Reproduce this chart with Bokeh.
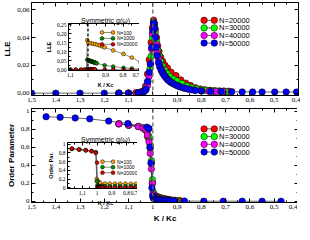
from bokeh.plotting import figure
from bokeh.layouts import column
from bokeh.models import (Range1d, FixedTicker, LinearAxis, Span, CustomJSTickFormatter)
from bokeh.core.properties import value
from bokeh.embed import file_html
from bokeh.resources import INLINE

# ---------------- data ----------------
series_labels = ["N=20000", "N=30000", "N=40000", "N=50000"]
series_colors = ["#ff0000", "#00ff00", "#ff00ff", "#0000ff"]

lle_x_20000 = [1.14, 1.10, 1.07, 1.05, 1.04, 1.03, 1.022, 1.015, 1.007, 1.002, 0.997, 0.993, 0.99, 0.985, 0.98, 0.975, 0.968, 0.96, 0.95, 0.94, 0.925, 0.905, 0.885, 0.865, 0.845, 0.825, 0.805, 0.786, 0.766, 0.747, 0.727, 0.708, 0.688]
lle_y_20000 = [0.0, 0.0, 0.0003, 0.0008, 0.0016, 0.005, 0.0137, 0.024, 0.0365, 0.047, 0.0525, 0.05, 0.046, 0.04, 0.034, 0.03, 0.026, 0.023, 0.02, 0.018, 0.015, 0.0126, 0.0095, 0.0072, 0.0055, 0.0039, 0.003, 0.0024, 0.002, 0.0018, 0.0016, 0.0015, 0.0014]
lle_x_30000 = [1.14, 1.10, 1.06, 1.04, 1.03, 1.02, 1.012, 1.007, 1.002, 0.997, 0.993, 0.99, 0.985, 0.98, 0.975, 0.968, 0.96, 0.95, 0.94, 0.93, 0.915, 0.90, 0.88, 0.86, 0.84, 0.82, 0.80, 0.78, 0.76, 0.74, 0.72, 0.70]
lle_y_30000 = [0.0, 0.0, 0.0003, 0.001, 0.003, 0.0085, 0.0175, 0.0265, 0.04, 0.051, 0.048, 0.044, 0.037, 0.031, 0.027, 0.023, 0.0195, 0.0165, 0.014, 0.012, 0.0102, 0.0088, 0.007, 0.0052, 0.004, 0.003, 0.0024, 0.002, 0.0017, 0.0015, 0.0013, 0.0012]
lle_x_40000 = [1.14, 1.10, 1.06, 1.04, 1.03, 1.022, 1.016, 1.011, 1.006, 1.002, 0.997, 0.993, 0.99, 0.986, 0.982, 0.977, 0.972, 0.966, 0.96, 0.953, 0.945, 0.937, 0.928, 0.918, 0.905, 0.89, 0.87, 0.85, 0.83, 0.80, 0.77, 0.74, 0.71]
lle_y_40000 = [0.0, 0.0, 0.0002, 0.0008, 0.0022, 0.0055, 0.012, 0.021, 0.032, 0.043, 0.0495, 0.046, 0.041, 0.035, 0.029, 0.025, 0.021, 0.018, 0.0155, 0.0132, 0.0112, 0.0096, 0.0082, 0.007, 0.0058, 0.0047, 0.0036, 0.0028, 0.0022, 0.0017, 0.0014, 0.0012, 0.0011]
lle_x_50000 = [1.5, 1.4, 1.3, 1.2, 1.14, 1.1, 1.06, 1.047, 1.036, 1.028, 1.022, 1.015, 1.009, 1.004, 1.0, 0.997, 0.994, 0.99, 0.986, 0.982, 0.977, 0.972, 0.966, 0.96, 0.954, 0.947, 0.94, 0.932, 0.924, 0.915, 0.905, 0.895, 0.883, 0.871, 0.857, 0.842, 0.825, 0.80, 0.762, 0.719, 0.675, 0.632, 0.589, 0.55, 0.498, 0.451, 0.408]
lle_y_50000 = [0, 0, 0, 0, 0, 0, 0.0003, 0.0006, 0.0011, 0.0028, 0.0083, 0.015, 0.021, 0.033, 0.045, 0.0505, 0.047, 0.04, 0.033, 0.027, 0.022, 0.019, 0.0165, 0.0145, 0.0128, 0.0112, 0.0098, 0.0086, 0.0076, 0.0067, 0.0058, 0.005, 0.0043, 0.0037, 0.003, 0.0024, 0.0019, 0.0015, 0.0012, 0.0011, 0.001, 0.0009, 0.0009, 0.0008, 0.0008, 0.0008, 0.0008]

op_x_20000 = [1.14, 1.10, 1.06, 1.04, 1.03, 1.022, 1.016, 1.011, 1.006, 1.002, 0.998, 0.994, 0.99, 0.985, 0.98, 0.975, 0.97, 0.96, 0.95, 0.94, 0.93, 0.91, 0.89]
op_y_20000 = [0.86, 0.845, 0.83, 0.81, 0.79, 0.72, 0.69, 0.59, 0.42, 0.2, 0.09, 0.07, 0.062, 0.055, 0.049, 0.044, 0.04, 0.034, 0.028, 0.023, 0.019, 0.013, 0.009]
op_x_30000 = [1.14, 1.10, 1.06, 1.04, 1.03, 1.022, 1.016, 1.011, 1.006, 1.002, 0.999, 0.996, 0.992, 0.988, 0.984, 0.979, 0.974, 0.968, 0.96, 0.95, 0.94, 0.92, 0.90]
op_y_30000 = [0.86, 0.845, 0.83, 0.815, 0.80, 0.77, 0.72, 0.62, 0.45, 0.24, 0.105, 0.07, 0.058, 0.05, 0.044, 0.039, 0.034, 0.03, 0.025, 0.02, 0.016, 0.011, 0.008]
op_x_40000 = [1.14, 1.10, 1.06, 1.04, 1.03, 1.022, 1.016, 1.011, 1.006, 1.002, 0.999, 0.996, 0.993, 0.99, 0.986, 0.982, 0.977, 0.972, 0.966, 0.96, 0.95, 0.94, 0.925, 0.905]
op_y_40000 = [0.86, 0.845, 0.83, 0.815, 0.80, 0.735, 0.66, 0.53, 0.36, 0.2, 0.08, 0.06, 0.05, 0.044, 0.038, 0.033, 0.028, 0.024, 0.02, 0.017, 0.013, 0.01, 0.007, 0.005]
op_x_50000 = [1.44, 1.382, 1.32, 1.26, 1.182, 1.103, 1.025, 1.016, 1.012, 1.008, 1.004, 1.001, 0.998, 0.995, 0.991, 0.987, 0.982, 0.977, 0.971, 0.965, 0.958, 0.95, 0.94, 0.928, 0.914, 0.87, 0.79, 0.71, 0.632, 0.55, 0.472]
op_y_50000 = [0.939, 0.932, 0.925, 0.915, 0.89, 0.864, 0.823, 0.809, 0.6, 0.425, 0.15, 0.06, 0.035, 0.03, 0.026, 0.023, 0.02, 0.018, 0.016, 0.014, 0.012, 0.01, 0.008, 0.006, 0.005, 0.003, 0.002, 0.002, 0.001, 0.001, 0.001]

inset_labels = ["N=100", "N=1000", "N=20000"]
inset_colors = ["#ffa500", "#008b00", "#e00000"]

in_lle_x_100 = [1.10, 1.07, 1.04, 1.02, 1.008, 1.004, 0.997, 0.985, 0.972, 0.96, 0.947, 0.934, 0.92, 0.905, 0.856, 0.797, 0.75, 0.70]
in_lle_y_100 = [0, 0, 0, 0, 0, 0.165, 0.15, 0.148, 0.145, 0.143, 0.14, 0.136, 0.131, 0.125, 0.108, 0.088, 0.068, 0.042]
in_lle_x_1000 = [1.10, 1.07, 1.04, 1.02, 1.008, 1.004, 0.999, 0.996, 0.993, 0.99, 0.987, 0.984, 0.981, 0.978, 0.975, 0.972, 0.969, 0.966, 0.963, 0.96, 0.955, 0.95, 0.905, 0.856, 0.797, 0.75, 0.70]
in_lle_y_1000 = [0, 0, 0, 0, 0, 0.057, 0.054, 0.052, 0.051, 0.05, 0.049, 0.048, 0.047, 0.046, 0.045, 0.044, 0.043, 0.042, 0.041, 0.04, 0.038, 0.036, 0.025, 0.018, 0.011, 0.007, 0.004]
in_lle_x_20000 = [1.10, 1.07, 1.04, 1.02, 1.008, 1.004, 0.999, 0.996, 0.993, 0.99, 0.987, 0.984, 0.981, 0.978, 0.975, 0.972, 0.969, 0.966, 0.963, 0.96, 0.905, 0.856, 0.797, 0.75, 0.70]
in_lle_y_20000 = [0, 0, 0, 0, 0, 0, 0.003, 0.003, 0.003, 0.003, 0.003, 0.003, 0.002, 0.002, 0.002, 0.002, 0.002, 0.002, 0.002, 0.002, 0.001, 0.001, 0.001, 0.001, 0.001]

in_op_x_100 = [1.17, 1.12, 1.076, 1.037, 1.008, 1.002, 0.995, 0.99, 0.985, 0.978, 0.946, 0.914, 0.878, 0.843, 0.807, 0.771, 0.737, 0.70]
in_op_y_100 = [0.90, 0.88, 0.865, 0.845, 0.82, 0.21, 0.16, 0.14, 0.125, 0.11, 0.10, 0.10, 0.098, 0.097, 0.097, 0.096, 0.096, 0.095]
in_op_x_1000 = [1.17, 1.12, 1.076, 1.037, 1.008, 1.001, 0.997, 0.993, 0.989, 0.985, 0.98, 0.975, 0.97, 0.96, 0.946, 0.914, 0.878, 0.843, 0.807, 0.771, 0.737, 0.70]
in_op_y_1000 = [0.895, 0.88, 0.862, 0.842, 0.81, 0.15, 0.06, 0.05, 0.045, 0.042, 0.04, 0.04, 0.04, 0.04, 0.04, 0.04, 0.04, 0.04, 0.04, 0.04, 0.04, 0.04]
in_op_x_20000 = [1.172, 1.123, 1.076, 1.037, 1.008, 1.0, 0.997, 0.994, 0.991, 0.988, 0.985, 0.982, 0.979, 0.976, 0.973, 0.97, 0.96, 0.946, 0.914, 0.878, 0.843, 0.807, 0.771, 0.737, 0.70]
in_op_y_20000 = [0.895, 0.88, 0.86, 0.84, 0.805, 0.58, 0.02, 0.015, 0.012, 0.01, 0.01, 0.01, 0.01, 0.01, 0.01, 0.01, 0.01, 0.01, 0.01, 0.01, 0.01, 0.01, 0.01, 0.01, 0.01]

# ticks
main_x_ticks = [1.5, 1.4, 1.3, 1.2, 1.1, 1.0, 0.9, 0.8, 0.7, 0.6, 0.5, 0.4]
main_x_labels = ["1,5", "1,4", "1,3", "1,2", "1,1", "1", "0,9", "0,8", "0,7", "0,6", "0,5", "0,4"]
main_x_minor = [1.45, 1.35, 1.25, 1.15, 1.05, 0.95, 0.85, 0.75, 0.65, 0.55, 0.45]
lle_y_ticks = [0.0, 0.02, 0.04, 0.06]
lle_y_labels = ["0,00", "0,02", "0,04", "0,06"]
lle_y_minor = [0.01, 0.03, 0.05]
op_y_ticks = [0.0, 0.2, 0.4, 0.6, 0.8, 1.0]
op_y_labels = ["0", "0,2", "0,4", "0,6", "0,8", "1"]
op_y_minor = [0.1, 0.3, 0.5, 0.7, 0.9]
in_x_ticks = [1.1, 1.0, 0.9, 0.8, 0.7]
in_x_labels = ["1,1", "1", "0,9", "0,8", "0,7"]
in_x_minor = [1.15, 1.05, 0.95, 0.85, 0.75]
in_lle_ticks = [0.0, 0.05, 0.10, 0.15, 0.20, 0.25]
in_lle_labels = ["0,00", "0,05", "0,10", "0,15", "0,20", "0,25"]
in_lle_minor = [0.025, 0.075, 0.125, 0.175, 0.225]
in_op_ticks = [0.0, 0.2, 0.4, 0.6, 0.8, 1.0]
in_op_labels = ["0", "0,2", "0,4", "0,6", "0,8", "1"]
in_op_minor = [0.1, 0.3, 0.5, 0.7, 0.9]

SERIF = "Liberation Serif"
SANS = "Liberation Sans"
LINE_COLOR = "#404040"


def label_formatter(tvals, tlabels):
    return CustomJSTickFormatter(args=dict(tvals=tvals, tlabels=tlabels), code="""
        for (let i = 0; i < tvals.length; i++) {
            if (Math.abs(tvals[i] - tick) < 1e-9) { return tlabels[i]; }
        }
        return '';
    """)


def make_fig(xr, yr, fw, fh, left, right, top, bottom):
    p = figure(x_range=Range1d(*xr), y_range=Range1d(*yr), frame_width=fw, frame_height=fh,
               output_backend="svg", toolbar_location=None,
               min_border_left=left, min_border_right=right,
               min_border_top=top, min_border_bottom=bottom)
    p.grid.visible = False
    p.outline_line_color = "black"
    p.outline_line_width = 1
    p.background_fill_color = "white"
    p.extra_x_ranges = {"px": Range1d(0, fw)}
    p.extra_y_ranges = {"px": Range1d(fh, 0)}
    return p


def style_axes(p, xt, xl, xm, yt, yl, ym, tick_font, label_font, tick_in, minor_in, xlabel, ylabel):
    xticker = FixedTicker(ticks=xt, minor_ticks=xm)
    yticker = FixedTicker(ticks=yt, minor_ticks=ym)
    xa = p.xaxis[0]
    ya = p.yaxis[0]
    xa.ticker = xticker
    ya.ticker = yticker
    xa.formatter = label_formatter(xt, xl)
    ya.formatter = label_formatter(yt, yl)
    xa.axis_label = xlabel
    ya.axis_label = ylabel
    for ax in (xa, ya):
        ax.major_tick_in = tick_in
        ax.major_tick_out = 0
        ax.minor_tick_in = minor_in
        ax.minor_tick_out = 0
        ax.major_label_text_font = SERIF
        ax.major_label_text_font_size = tick_font
        ax.major_label_text_color = "black"
        ax.major_label_standoff = 2
        ax.axis_label_text_font = SANS
        ax.axis_label_text_font_style = "bold"
        ax.axis_label_text_font_size = label_font
        ax.axis_label_text_color = "black"
        ax.axis_label_standoff = 2
        ax.axis_line_color = "black"
        ax.major_tick_line_color = "black"
        ax.minor_tick_line_color = "black"
    for loc, tk in (("above", xticker), ("right", yticker)):
        mirror = LinearAxis(ticker=tk, formatter=CustomJSTickFormatter(code="return '';"),
                            major_tick_in=tick_in, major_tick_out=0,
                            minor_tick_in=minor_in, minor_tick_out=0,
                            major_label_standoff=0, major_label_text_font_size="1px",
                            axis_line_color="black")
        p.add_layout(mirror, loc)


def add_series(p, xs, ys, colors, size, lw):
    for x, y, c in zip(xs, ys, colors):
        p.line(x, y, line_color=LINE_COLOR, line_width=lw)
        p.scatter(x, y, size=size, fill_color=c, line_color="black", line_width=0.5)


def add_legend(p, labels, colors, xm0, xm1, xt, y0, pitch, size, font, lw):
    # legend drawn in frame pixel coordinates (extra ranges "px")
    n = len(labels)
    ys = [y0 + i * pitch for i in range(n)]
    kw = dict(x_range_name="px", y_range_name="px")
    p.segment(x0=[xm0] * n, y0=ys, x1=[xm1] * n, y1=ys, line_color=LINE_COLOR, line_width=lw, **kw)
    for xm in (xm0, xm1):
        p.scatter(x=[xm] * n, y=ys, size=size, fill_color=colors, line_color="black",
                  line_width=0.5, **kw)
    p.text(x=[xt] * n, y=ys, text=labels, text_font=value(SANS), text_font_size=value(font),
           text_baseline="middle", text_align="left", text_color="black", **kw)


def style_title(p):
    p.title.text = "Symmetric g(ω)"
    p.title.text_font = SANS
    p.title.text_font_style = "normal"
    p.title.text_font_size = "7px"
    p.title.text_color = "black"
    p.title.align = "center"
    p.title.standoff = 0
    p.border_fill_alpha = 0


# ---------------- main top (LLE) ----------------
top = make_fig((1.5, 0.4), (-0.0017, 0.0652), 267, 93, 25, 2, 2, 11)
style_axes(top, main_x_ticks, main_x_labels, main_x_minor, lle_y_ticks, lle_y_labels, lle_y_minor,
           "7px", "8px", 4, 2, "", "LLE")
top.add_layout(Span(location=1.0, dimension="height", line_color="#666666", line_dash="4 3", line_width=1.3))
add_series(top, [lle_x_20000, lle_x_30000, lle_x_40000, lle_x_50000],
           [lle_y_20000, lle_y_30000, lle_y_40000, lle_y_50000], series_colors, 6.5, 0.8)
add_legend(top, series_labels, series_colors, 172.6, 182.8, 187.6, 17.8, 7.6, 6.5, "7.5px", 0.8)

# ---------------- main bottom (Order parameter) ----------------
bot = make_fig((1.5, 0.4), (-0.013, 1.03), 267, 94, 25, 2, 2, 22)
style_axes(bot, main_x_ticks, main_x_labels, main_x_minor, op_y_ticks, op_y_labels, op_y_minor,
           "7px", "8px", 4, 2, "K / Kc", "Order Parameter")
bot.add_layout(Span(location=1.0, dimension="height", line_color="#666666", line_dash="4 3", line_width=1.3))
add_series(bot, [op_x_20000, op_x_30000, op_x_40000, op_x_50000],
           [op_y_20000, op_y_30000, op_y_40000, op_y_50000], series_colors, 6.5, 0.8)
add_legend(bot, series_labels, series_colors, 172.6, 182.8, 187.6, 20.4, 7.7, 6.5, "7.5px", 0.8)

# ---------------- inset top ----------------
ins1 = make_fig((1.111, 0.689), (-0.004, 0.258), 74, 47, 19, 2, 11, 18)
style_axes(ins1, in_x_ticks, in_x_labels, in_x_minor, in_lle_ticks, in_lle_labels, in_lle_minor,
           "5.5px", "5.5px", 3, 2, "K / Kc", "LLE")
style_title(ins1)
ins1.add_layout(Span(location=1.0, dimension="height", line_color="black", line_dash="3 2", line_width=1.3))
add_series(ins1, [in_lle_x_100, in_lle_x_1000, in_lle_x_20000],
           [in_lle_y_100, in_lle_y_1000, in_lle_y_20000], inset_colors, 3.8, 0.6)
add_legend(ins1, inset_labels, inset_colors, 33.5, 44.5, 48.5, 9.0, 5.9, 3.8, "5px", 0.6)
ins1.styles = {"position": "absolute", "left": "37px", "top": "12px"}

# ---------------- inset bottom ----------------
ins2 = make_fig((1.2, 0.685), (-0.012, 1.04), 76, 46, 19, 2, 11, 18)
style_axes(ins2, in_x_ticks, in_x_labels, in_x_minor, in_op_ticks, in_op_labels, in_op_minor,
           "5.5px", "5.5px", 3, 2, "K / Kc", "Order Par.")
style_title(ins2)
add_series(ins2, [in_op_x_100, in_op_x_1000, in_op_x_20000],
           [in_op_y_100, in_op_y_1000, in_op_y_20000], inset_colors, 3.8, 0.6)
add_legend(ins2, inset_labels, inset_colors, 35.0, 45.5, 49.5, 19.2, 5.5, 3.8, "5px", 0.6)
ins2.styles = {"position": "absolute", "left": "36px", "top": "131px"}

layout = column(top, bot, ins1, ins2, spacing=0)
layout.styles = {"position": "relative"}

open("out.html", "w").write(file_html(layout, INLINE))
